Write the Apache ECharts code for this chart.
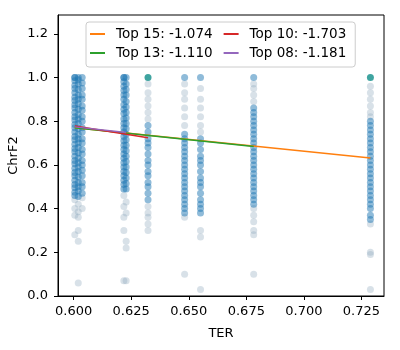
<!DOCTYPE html>
<html>
<head>
<meta charset="utf-8">
<script src="https://cdn.jsdelivr.net/npm/echarts@6/dist/echarts.min.js"></script>
<style>
  html, body { margin: 0; padding: 0; background: #fff; }
  #chart { width: 400px; height: 350px; }
</style>
</head>
<body>
<div id="chart"></div>
<script>
// x positions of the TER columns
var colX = [0.6005, 0.6020, 0.6037, 0.6218, 0.6228, 0.6323, 0.6482, 0.6551, 0.6782, 0.7289];

// ChrF2 values, darker (dense) points per column
var denseY = [
  [1.0, 1.0, 0.985, 0.965, 0.95, 0.93, 0.91, 0.895, 0.875, 0.86, 0.84, 0.82, 0.805, 0.785, 0.77, 0.75, 0.73, 0.715, 0.695, 0.675, 0.66, 0.64, 0.62, 0.605, 0.585, 0.565, 0.55, 0.53, 0.51, 0.495, 0.475, 0.46],
  [1.0, 0.99, 0.97, 0.945, 0.92, 0.9, 0.88, 0.855, 0.83, 0.81, 0.79, 0.765, 0.74, 0.72, 0.7, 0.68, 0.655, 0.63, 0.61, 0.59, 0.57, 0.545, 0.52, 0.5, 0.48, 0.455],
  [1.0, 0.975, 0.95, 0.92, 0.9, 0.87, 0.85, 0.82, 0.8, 0.77, 0.75, 0.72, 0.7, 0.67, 0.65, 0.62, 0.6, 0.575, 0.55, 0.52, 0.5, 0.47],
  [1.0, 1.0, 0.98, 0.96, 0.94, 0.92, 0.9, 0.875, 0.855, 0.835, 0.81, 0.79, 0.77, 0.75, 0.73, 0.71, 0.69, 0.67, 0.65, 0.63, 0.61, 0.59, 0.57, 0.55, 0.53, 0.51, 0.49],
  [1.0, 0.97, 0.945, 0.92, 0.89, 0.865, 0.84, 0.815, 0.79, 0.765, 0.74, 0.715, 0.69, 0.665, 0.64, 0.615, 0.59, 0.565, 0.54, 0.515, 0.49],
  [0.78, 0.75, 0.72, 0.7, 0.68, 0.65, 0.62, 0.6, 0.57, 0.55, 0.52, 0.5, 0.47, 0.44],
  [1.0, 0.74, 0.72, 0.7, 0.68, 0.66, 0.64, 0.62, 0.6, 0.58, 0.56, 0.54, 0.52, 0.5, 0.48, 0.46, 0.44, 0.42, 0.4, 0.38],
  [1.0, 0.72, 0.7, 0.67, 0.64, 0.62, 0.6, 0.57, 0.54, 0.52, 0.5, 0.47, 0.44, 0.42, 0.4, 0.38],
  [1.0, 0.86, 0.84, 0.82, 0.8, 0.78, 0.76, 0.74, 0.72, 0.7, 0.68, 0.66, 0.64, 0.62, 0.6, 0.58, 0.56, 0.54, 0.52, 0.5, 0.48, 0.46, 0.44, 0.42],
  [0.8, 0.78, 0.76, 0.74, 0.72, 0.7, 0.68, 0.66, 0.64, 0.62, 0.6, 0.58, 0.56, 0.54, 0.52, 0.5, 0.48, 0.46, 0.44, 0.42, 0.4, 0.37, 0.35]
];

// ChrF2 values, faint (pale) points per column
var faintY = [
  [0.44, 0.4, 0.37, 0.28],
  [0.42, 0.385, 0.36, 0.3, 0.25, 0.06],
  [0.45, 0.4],
  [0.46, 0.41, 0.36, 0.3, 0.07],
  [0.43, 0.38, 0.25, 0.22, 0.07],
  [0.97, 0.93, 0.9, 0.87, 0.84, 0.81, 0.41, 0.38, 0.36, 0.33, 0.3],
  [0.97, 0.93, 0.9, 0.86, 0.82, 0.78, 0.36, 0.1],
  [0.95, 0.9, 0.86, 0.82, 0.78, 0.75, 0.3, 0.27, 0.03],
  [0.97, 0.95, 0.92, 0.89, 0.4, 0.37, 0.34, 0.3, 0.28, 0.1],
  [0.96, 0.93, 0.9, 0.87, 0.84, 0.82, 0.33, 0.2, 0.19, 0.03]
];

// top points drawn in teal
var tealX = [0.6323, 0.7289];
var tealY = [1.0, 1.0];

// regression lines: name, start [TER, ChrF2], end [TER, ChrF2]
var lineNames = ['Top 15: -1.074', 'Top 13: -1.110', 'Top 10: -1.703', 'Top 08: -1.181'];
var lineStart = [[0.6005, 0.770], [0.6005, 0.770], [0.6005, 0.778], [0.6005, 0.774]];
var lineEnd = [[0.7289, 0.632], [0.6782, 0.684], [0.6323, 0.724], [0.6228, 0.748]];
var lineColors = ['#ff7f0e', '#2ca02c', '#d62728', '#9467bd'];

var xTicks = [0.600, 0.625, 0.650, 0.675, 0.700, 0.725];
var yTicks = [0.0, 0.2, 0.4, 0.6, 0.8, 1.0, 1.2];

function pts(ys) {
  var out = [];
  for (var i = 0; i < ys.length; i++) {
    for (var j = 0; j < ys[i].length; j++) out.push([colX[i], ys[i][j]]);
  }
  return out;
}

var font = 'DejaVu Sans';
var series = [
  {
    type: 'scatter', name: 'faint', data: pts(faintY), symbolSize: 7, silent: true,
    itemStyle: { color: '#8fa8bc', opacity: 0.35 }
  },
  {
    type: 'scatter', name: 'dense', data: pts(denseY), symbolSize: 7, silent: true,
    itemStyle: { color: '#1f77b4', opacity: 0.5 }
  },
  {
    type: 'scatter', name: 'teal', data: tealX.map(function (x, i) { return [x, tealY[i]]; }),
    symbolSize: 7, silent: true, itemStyle: { color: '#2a9a96', opacity: 0.9 }
  }
];
for (var k = 0; k < lineNames.length; k++) {
  series.push({
    type: 'line', name: lineNames[k], data: [lineStart[k], lineEnd[k]],
    showSymbol: false, symbol: 'none', silent: true,
    lineStyle: { color: lineColors[k], width: 1.5 },
    itemStyle: { color: lineColors[k] },
    z: 5 + k
  });
}

var chart = echarts.init(document.getElementById('chart'), null, { renderer: 'canvas' });
chart.setOption({
  animation: false,
  backgroundColor: '#fff',
  textStyle: { fontFamily: font },
  grid: {
    left: 58, right: 16, top: 15, bottom: 54,
    show: true, borderColor: '#000', borderWidth: 1,
    containLabel: false, outerBoundsMode: 'none'
  },
  legend: {
    data: [lineNames[0], lineNames[2], lineNames[1], lineNames[3]],
    left: 86, top: 22, width: 280,
    orient: 'horizontal',
    icon: 'rect', itemWidth: 15, itemHeight: 2, itemGap: 5,
    padding: [5, 3, 7, 4],
    backgroundColor: 'rgba(255,255,255,0.85)',
    borderColor: '#cccccc', borderWidth: 1, borderRadius: 3,
    textStyle: { fontFamily: font, fontSize: 13.5, color: '#000', lineHeight: 14, padding: [0, 6, 0, 6] }
  },
  xAxis: {
    type: 'value', min: 0.5932, max: 0.7348,
    name: 'TER', nameLocation: 'middle', nameGap: 31, nameMoveOverlap: false,
    nameTextStyle: { fontFamily: font, fontSize: 13, color: '#000' },
    axisLine: { show: true, onZero: false, lineStyle: { color: '#000', width: 1 } },
    axisTick: { show: true, length: 4, inside: false, customValues: xTicks, lineStyle: { color: '#000' } },
    axisLabel: {
      customValues: xTicks, margin: 9, fontFamily: font, fontSize: 13, color: '#000',
      formatter: function (v) { return v.toFixed(3); }
    },
    splitLine: { show: false }
  },
  yAxis: {
    type: 'value', min: 0, max: 1.286,
    name: 'ChrF2', nameLocation: 'middle', nameGap: 38, nameRotate: 90, nameMoveOverlap: false,
    nameTextStyle: { fontFamily: font, fontSize: 13, color: '#000' },
    axisLine: { show: true, onZero: false, lineStyle: { color: '#000', width: 1 } },
    axisTick: { show: true, length: 4, inside: false, customValues: yTicks, lineStyle: { color: '#000' } },
    axisLabel: {
      customValues: yTicks, margin: 10, fontFamily: font, fontSize: 13, color: '#000',
      formatter: function (v) { return v.toFixed(1); }
    },
    splitLine: { show: false }
  },
  series: series
});
</script>
</body>
</html>
